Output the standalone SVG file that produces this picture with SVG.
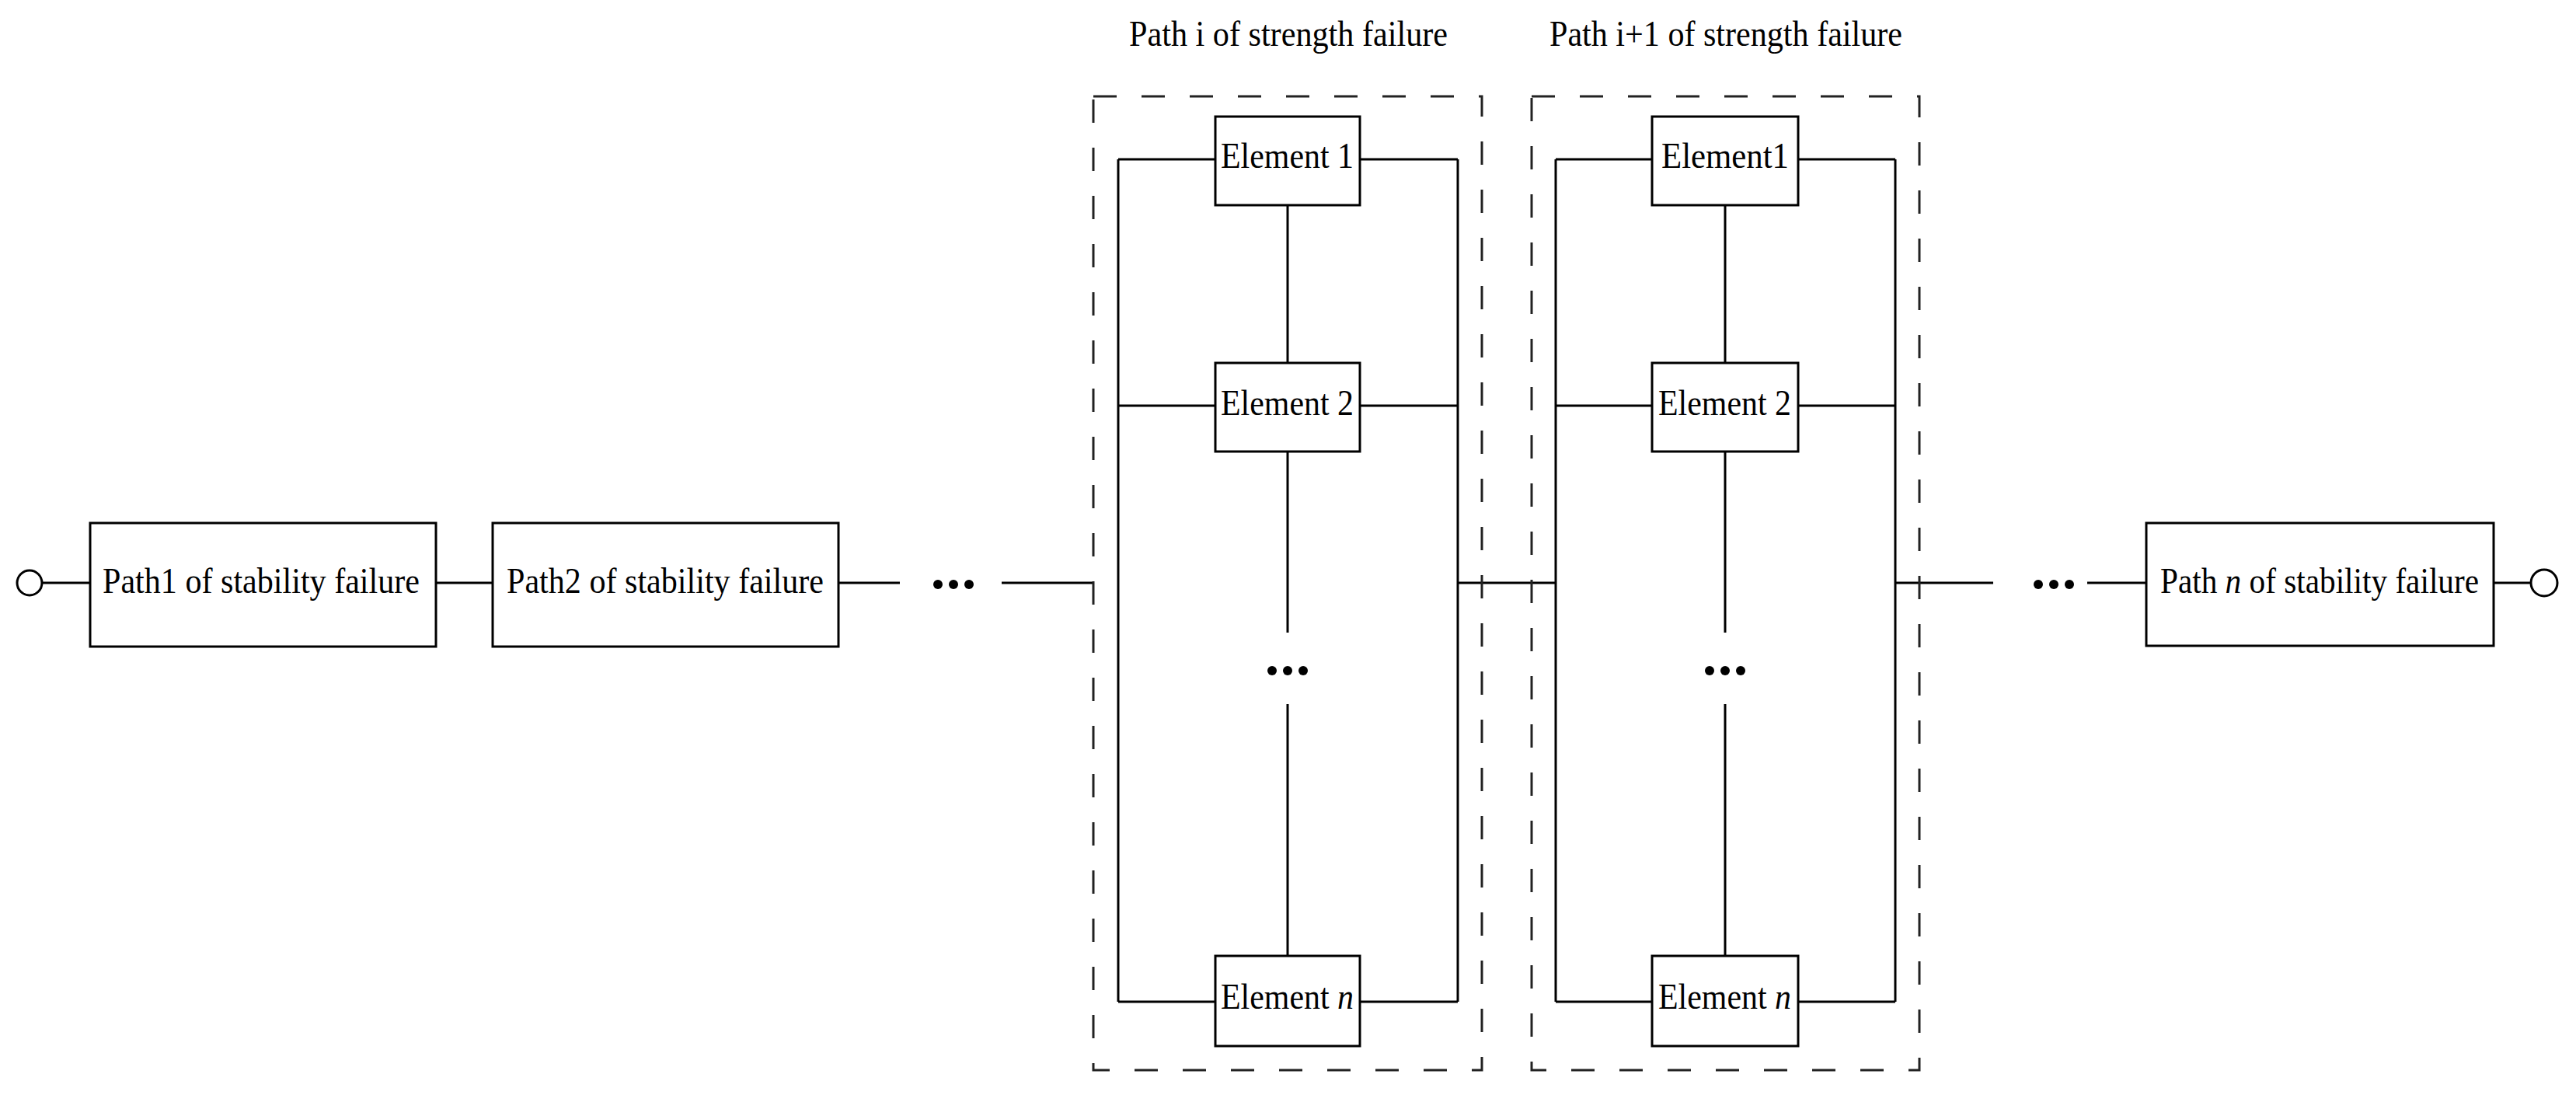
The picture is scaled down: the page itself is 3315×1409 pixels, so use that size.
<svg xmlns="http://www.w3.org/2000/svg" width="3315" height="1409" viewBox="0 0 3315 1409">
<style>
.b{fill:#fff;stroke:#000;stroke-width:3}
.l{fill:none;stroke:#000;stroke-width:3}
.d{fill:none;stroke:#222;stroke-width:3;stroke-dasharray:30 32}
text{font-family:"Liberation Serif","Times New Roman",serif;font-size:46px;fill:#000}
.c{text-anchor:middle}
</style>
<rect width="3315" height="1409" fill="#fff"/>
<g id="connectors">
<circle cx="38" cy="750" r="16" class="l"/>
<path class="l" d="M54 750H116M561 750H634M1079 750H1158M1289 750H1407M1876 750H2002M2440 750H2565M2686 750H2762M3209 750H3257"/>
<path class="l" d="M1439 205H1564M1750 205H1876M1439 522H1564M1750 522H1876M1439 1289H1564M1750 1289H1876M1439 205V1289M1876 205V1289M1657 264V467M1657 581V814M1657 906V1230"/>
<path class="l" d="M2002 205H2126M2314 205H2439M2002 522H2126M2314 522H2439M2002 1289H2126M2314 1289H2439M2002 205V1289M2439 205V1289M2220 264V467M2220 581V814M2220 906V1230"/>
<circle cx="3274" cy="750" r="17" class="l"/>
</g>
<g id="dots" fill="#000">
<circle cx="1207" cy="752" r="6"/><circle cx="1227" cy="752" r="6"/><circle cx="1247" cy="752" r="6"/>
<circle cx="2623" cy="752" r="6"/><circle cx="2643" cy="752" r="6"/><circle cx="2663" cy="752" r="6"/>
<circle cx="1637" cy="863" r="6"/><circle cx="1657" cy="863" r="6"/><circle cx="1677" cy="863" r="6"/>
<circle cx="2200" cy="863" r="6"/><circle cx="2220" cy="863" r="6"/><circle cx="2240" cy="863" r="6"/>
</g>
<g id="group-i">
<rect class="d" x="1407" y="124" width="500" height="1253"/>
<text class="c" x="1658" y="59" textLength="410" lengthAdjust="spacingAndGlyphs">Path i of  strength failure</text>
</g>
<g id="group-i1">
<rect class="d" x="1971" y="124" width="499" height="1253"/>
<text class="c" x="2221" y="59" textLength="454" lengthAdjust="spacingAndGlyphs">Path i+1 of  strength failure</text>
</g>
<g id="path1"><rect class="b" x="116" y="673" width="445" height="159"/><text x="132" y="763" textLength="408" lengthAdjust="spacingAndGlyphs">Path1  of stability failure</text></g>
<g id="path2"><rect class="b" x="634" y="673" width="445" height="159"/><text x="652" y="763" textLength="408" lengthAdjust="spacingAndGlyphs">Path2  of stability failure</text></g>
<g id="pathn"><rect class="b" x="2762" y="673" width="447" height="158"/><text x="2780" y="763" textLength="410" lengthAdjust="spacingAndGlyphs">Path <tspan font-style="italic">n</tspan> of stability failure</text></g>
<g id="e1i"><rect class="b" x="1564" y="150" width="186" height="114"/><text x="1571" y="216" textLength="171" lengthAdjust="spacingAndGlyphs">Element 1</text></g>
<g id="e2i"><rect class="b" x="1564" y="467" width="186" height="114"/><text x="1571" y="534" textLength="171" lengthAdjust="spacingAndGlyphs">Element 2</text></g>
<g id="eni"><rect class="b" x="1564" y="1230" width="186" height="116"/><text x="1571" y="1298" textLength="171" lengthAdjust="spacingAndGlyphs">Element <tspan font-style="italic">n</tspan></text></g>
<g id="e1j"><rect class="b" x="2126" y="150" width="188" height="114"/><text x="2138" y="216" textLength="164" lengthAdjust="spacingAndGlyphs">Element1</text></g>
<g id="e2j"><rect class="b" x="2126" y="467" width="188" height="114"/><text x="2134" y="534" textLength="171" lengthAdjust="spacingAndGlyphs">Element 2</text></g>
<g id="enj"><rect class="b" x="2126" y="1230" width="188" height="116"/><text x="2134" y="1298" textLength="171" lengthAdjust="spacingAndGlyphs">Element <tspan font-style="italic">n</tspan></text></g>
</svg>
